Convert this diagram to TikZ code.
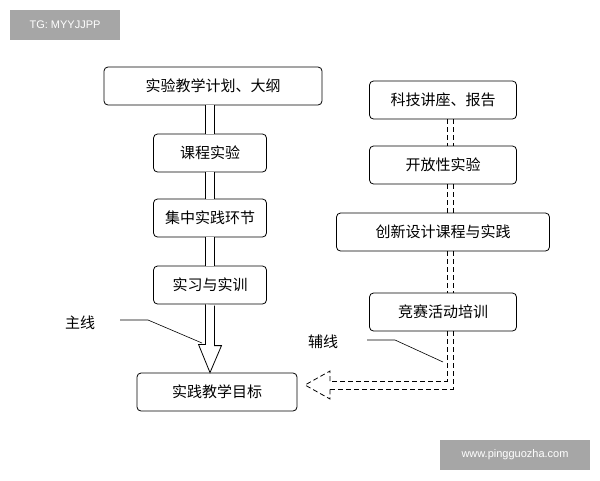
\documentclass[tikz,border=0pt]{standalone}
\usepackage{fontspec}
\newfontfamily\cjk{Noto Sans CJK SC}
\setsansfont{Liberation Sans}
\usetikzlibrary{positioning,calc}
\begin{document}
\begin{tikzpicture}[x=1pt, y=-1pt, semithick]
\tikzstyle{every node}=[font=\cjk\fontsize{15}{17}\selectfont]
\tikzstyle{box}=[draw=black, thick, rounded corners=4pt, minimum height=38pt, inner sep=2pt]
\tikzstyle{tagbox}=[fill=black!35, text=white, font=\sffamily\fontsize{11}{13}\selectfont]
\useasboundingbox (0,0) rectangle (600,480);
% watermarks
\node[tagbox, minimum width=110pt, minimum height=30pt] (tg)  at (65,25)   {TG: MYYJJPP};
\node[tagbox, minimum width=150pt, minimum height=30pt] (web) at (515,455) {www.pingguozha.com};
% main line
\node[box, minimum width=218pt] (plan)   at (213,86)  {实验教学计划、大纲};
\node[box, minimum width=113pt] (course) at (210,153) {课程实验};
\node[box, minimum width=113pt] (focus)  at (210,218) {集中实践环节};
\node[box, minimum width=113pt] (intern) at (210,285) {实习与实训};
\node[box, minimum width=160pt] (goal)   at (217,392) {实践教学目标};
% side line
\node[box, minimum width=147pt] (talk)    at (443,100) {科技讲座、报告};
\node[box, minimum width=147pt] (open)    at (443,165) {开放性实验};
\node[box, minimum width=213pt] (design)  at (443,232) {创新设计课程与实践};
\node[box, minimum width=147pt] (contest) at (443,312) {竞赛活动培训};
\tikzstyle{mainway}=[double, double distance=8pt, thick]
\tikzstyle{sideway}=[thick, dash pattern=on 5pt off 3pt]
\draw[mainway] (plan.south -| course.north) -- (course.north);
\draw[mainway] (course) -- (focus);
\draw[mainway] (focus) -- (intern);
\draw[thick, fill=white] ($(intern.south)+(-4.5,0)$) -- ++(0,40) -- ++(-7,0) -- ($(goal.north -| intern.south)$)
  -- ++(11.5,-27) -- ++(-7,0) -- ++(0,-40);
% side way: two dashed strokes
\foreach \a/\b in {talk/open, open/design, design/contest} {
  \draw[sideway] ($(\a.south)+(4,0)$) -- ($(\b.north)+(4,0)$);
  \draw[sideway] ($(\a.south)+(10,0)$) -- ($(\b.north)+(10,0)$);
}
\draw[sideway] ($(contest.south)+(4,0)$) |- (330,381);
\draw[sideway] ($(contest.south)+(10,0)$) |- (330,389);
\draw[sideway] (330,381) -- (330,371) -- (305,385) -- (330,399) -- (330,389);
% labels
\node (mainlbl) at (80,323)  {主线};
\node (sidelbl) at (323,342) {辅线};
\draw (120,320) -- (148,320) -- (202,343);
\draw (367,340) -- (395,340) -- (443,362);
\end{tikzpicture}
\end{document}
